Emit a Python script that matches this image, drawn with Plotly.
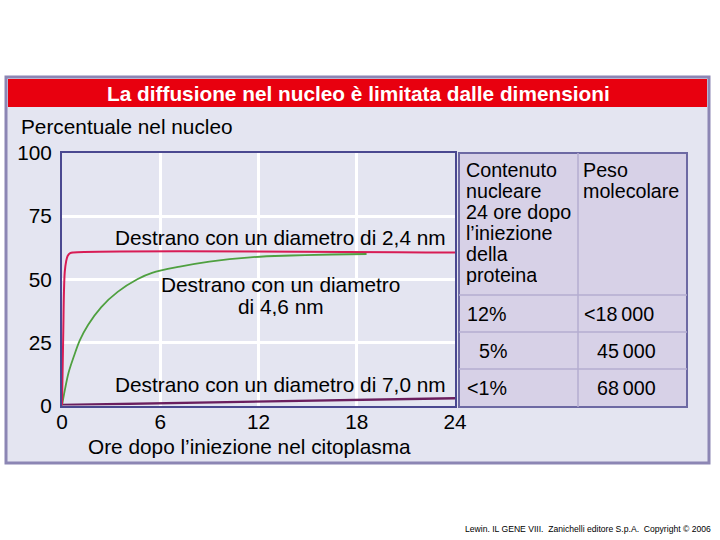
import plotly.graph_objects as go

# ---- data ----
x_24 = [0, 0.08, 0.12, 0.17, 0.25, 0.35, 0.5, 0.7, 24]
y_24 = [0, 30, 45, 53, 57, 59.3, 60.3, 60.6, 60.6]

x_46 = [0, 0.2, 0.4, 0.7, 1.1, 1.6, 2.4, 3.4, 4.6, 5.5, 7.2, 9, 11.5, 14, 16.5, 18.6]
y_46 = [0, 7, 13, 19, 26, 32, 39, 45, 50, 52.5, 55, 57, 58.7, 59.4, 59.8, 60]

x_70 = [0, 6, 12, 18, 24]
y_70 = [0.2, 0.8, 1.4, 2.1, 2.9]

x_ticks = [0, 6, 12, 18, 24]
y_ticks = [0, 25, 50, 75, 100]

table_col1_header = ["Contenuto", "nucleare", "24 ore dopo", "l’iniezione", "della", "proteina"]
table_col2_header = ["Peso", "molecolare"]
table_col1 = ["12%", "5%", "<1%"]
table_col2 = ["<18\u2009000", "45\u2009000", "68\u2009000"]

W, H = 720, 540
FONT = "Liberation Sans, Arial, sans-serif"
FS = 20.8
FT = 19.7


def px(x):
    return x / W


def py(y):
    return 1 - y / H


fig = go.Figure()
fig.add_trace(go.Scatter(x=x_70, y=y_70, mode="lines",
                         line=dict(color="#6a1e5e", width=2.4), hoverinfo="skip"))
fig.add_trace(go.Scatter(x=x_46, y=y_46, mode="lines", line_shape="spline",
                         line=dict(color="#4fa040", width=1.8), hoverinfo="skip"))
fig.add_trace(go.Scatter(x=x_24, y=y_24, mode="lines", line_shape="spline",
                         line=dict(color="#d81c55", width=2), hoverinfo="skip"))

shapes = []
# outer frame
shapes.append(dict(type="rect", xref="paper", yref="paper",
                   x0=px(6), x1=px(709), y0=py(463), y1=py(77),
                   fillcolor="#e4e5f1", line=dict(color="#8c86b4", width=3), layer="below"))
# title bar
shapes.append(dict(type="rect", xref="paper", yref="paper",
                   x0=px(8), x1=px(707), y0=py(107), y1=py(79),
                   fillcolor="#e8000f", line=dict(width=0), layer="below"))
# table
tx0, tx1, tmid = 459, 687, 578
ty0, ty1 = 153, 407
shapes.append(dict(type="rect", xref="paper", yref="paper",
                   x0=px(tx0), x1=px(tx1), y0=py(ty1), y1=py(ty0),
                   fillcolor="#d7d1e7", line=dict(color="#6d69a3", width=2), layer="below"))
shapes.append(dict(type="line", xref="paper", yref="paper",
                   x0=px(tmid), x1=px(tmid), y0=py(ty1), y1=py(ty0),
                   line=dict(color="#b4acd0", width=1.5)))
for ry in [295, 332, 369]:
    shapes.append(dict(type="line", xref="paper", yref="paper",
                       x0=px(tx0), x1=px(tx1), y0=py(ry), y1=py(ry),
                       line=dict(color="#b4acd0", width=1.5)))

ann = []


def text(x, y, s, size=FS, color="black", anchor="left", bold=False, h=None):
    a = dict(xref="paper", yref="paper", x=px(x), y=py(y), text=("<b>%s</b>" % s) if bold else s,
             showarrow=False, xanchor=anchor, yanchor="middle",
             font=dict(family=FONT, size=size, color=color))
    if h is not None:
        a["height"] = h
        a["borderpad"] = 0
    ann.append(a)


text(358, 93, "La diffusione nel nucleo è limitata dalle dimensioni", color="white", anchor="center", bold=True)
text(19, 127, "Percentuale nel nucleo")
text(249, 447, "Ore dopo l’iniezione nel citoplasma", anchor="center")
text(280, 237, "Destrano con un diametro di 2,4 nm", anchor="center")
text(280, 284, "Destrano con un diametro", anchor="center", h=20)
text(281, 306, "di 4,6 nm", anchor="center", h=20)
text(280, 385, "Destrano con un diametro di 7,0 nm", anchor="center")

for i, s in enumerate(table_col1_header):
    text(465, 170 + i * 21, s, size=FT, h=20)
for i, s in enumerate(table_col2_header):
    text(582, 170 + i * 21, s, size=FT, h=20)
row_y = [314, 351, 388]
col1_x = [465, 477, 465]
col2_x = [582, 595, 595]
for i in range(3):
    text(col1_x[i], row_y[i], table_col1[i], size=FT)
    text(col2_x[i], row_y[i], table_col2[i], size=FT)

text(713, 529, "Lewin. IL GENE VIII.  Zanichelli editore S.p.A.  Copyright © 2006", size=8.6, anchor="right")

fig.update_layout(
    width=W, height=H, margin=dict(l=0, r=0, t=0, b=0, autoexpand=False),
    paper_bgcolor="white", plot_bgcolor="#ab9fca",
    showlegend=False, shapes=shapes, annotations=ann,
    xaxis=dict(domain=[px(62), px(455)], range=[0, 24], tickvals=x_ticks,
               showgrid=True, gridcolor="white", gridwidth=2.5, zeroline=False,
               showline=True, linecolor="#4a4890", linewidth=2, mirror=True,
               ticks="", tickfont=dict(family=FONT, size=FS, color="black"),
               ticklabelstandoff=-3, automargin=False, fixedrange=True),
    yaxis=dict(domain=[py(405.5), py(153)], range=[0, 100], tickvals=y_ticks,
               showgrid=True, gridcolor="white", gridwidth=2.5, zeroline=False,
               showline=True, linecolor="#4a4890", linewidth=2, mirror=True,
               ticks="", tickfont=dict(family=FONT, size=FS, color="black"),
               ticklabelstandoff=4, automargin=False, fixedrange=True),
)

fig.write_html("out.html", config={"displayModeBar": False},
               post_script="document.body.style.margin='0';document.body.style.overflow='hidden';")
